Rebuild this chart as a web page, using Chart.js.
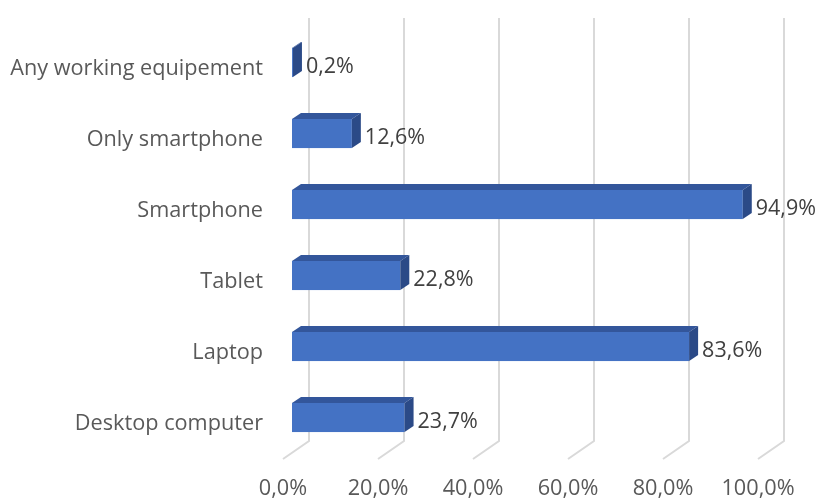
<!doctype html>
<html lang="en">
<head>
    <meta charset="UTF-8">
    <title>Equipment</title>
    <script src="https://cdn.jsdelivr.net/npm/chart.js"></script>
    <style>
        body { margin: 0; background: #fff; }
        #wrap { width: 819px; height: 500px; }
    </style>
</head>
<body>
    <div id="wrap"><canvas id="equipChart"></canvas></div>

    <script>
        const categories = ['Any working equipement', 'Only smartphone', 'Smartphone', 'Tablet', 'Laptop', 'Desktop computer'];
        const shares = [0.2, 12.6, 94.9, 22.8, 83.6, 23.7];
        const tickValues = [0, 20, 40, 60, 80, 100];

        const fmt = v => v.toFixed(1).replace('.', ',') + '%';

        // fake 3D: floor depth and bar depth offsets
        const wallDx = 26, wallDy = -18;
        const barDx = 9, barDy = -6;

        const box3d = {
            id: 'box3d',
            beforeDatasetsDraw(chart) {
                const ctx = chart.ctx;
                const x = chart.scales.x;
                const area = chart.chartArea;
                ctx.save();
                ctx.strokeStyle = '#d9d9d9';
                ctx.lineWidth = 2;
                tickValues.forEach(v => {
                    const px = x.getPixelForValue(v);
                    ctx.beginPath();
                    ctx.moveTo(px + wallDx, area.top + wallDy + 3);
                    ctx.lineTo(px + wallDx, area.bottom + wallDy);
                    ctx.lineTo(px, area.bottom);
                    ctx.stroke();
                });
                ctx.restore();
            },
            afterDatasetsDraw(chart) {
                const ctx = chart.ctx;
                const meta = chart.getDatasetMeta(0);
                ctx.save();
                meta.data.forEach((bar, i) => {
                    const x0 = bar.base + barDx;
                    const x1 = bar.x + barDx;
                    const top = bar.y - bar.height / 2 + barDy;
                    const bot = bar.y + bar.height / 2 + barDy;
                    // front
                    ctx.fillStyle = '#4472c4';
                    ctx.fillRect(x0, top, x1 - x0, bot - top);
                    // top face
                    ctx.fillStyle = '#33569b';
                    ctx.beginPath();
                    ctx.moveTo(x0, top);
                    ctx.lineTo(x1, top);
                    ctx.lineTo(x1 + barDx, top + barDy);
                    ctx.lineTo(x0 + barDx, top + barDy);
                    ctx.closePath();
                    ctx.fill();
                    // side face
                    ctx.fillStyle = '#2b4a87';
                    ctx.beginPath();
                    ctx.moveTo(x1, top);
                    ctx.lineTo(x1 + barDx, top + barDy);
                    ctx.lineTo(x1 + barDx, bot + barDy);
                    ctx.lineTo(x1, bot);
                    ctx.closePath();
                    ctx.fill();
                    // value label
                    ctx.fillStyle = '#404040';
                    ctx.font = '21.5px "Open Sans"';
                    ctx.textAlign = 'left';
                    ctx.textBaseline = 'middle';
                    ctx.fillText(fmt(shares[i]), x1 + barDx + 4, bar.y - 2);
                });
                ctx.restore();
            }
        };

        new Chart(document.getElementById('equipChart'), {
            type: 'bar',
            data: {
                labels: categories,
                datasets: [{
                    data: shares,
                    backgroundColor: 'rgba(0,0,0,0)',
                    categoryPercentage: 1,
                    barPercentage: 0.41
                }]
            },
            options: {
                indexAxis: 'y',
                responsive: true,
                maintainAspectRatio: false,
                animation: false,
                layout: { padding: { top: 30, right: 61, left: 0, bottom: 0 } },
                plugins: { legend: { display: false }, tooltip: { enabled: false } },
                scales: {
                    x: {
                        min: 0,
                        max: 100,
                        afterFit: s => { s.height = 41; },
                        grid: { display: false, drawTicks: false },
                        border: { display: false },
                        ticks: {
                            stepSize: 20,
                            padding: 17,
                            color: '#595959',
                            font: { family: 'Open Sans', size: 21.7 },
                            callback: v => fmt(v)
                        }
                    },
                    y: {
                        afterFit: s => { s.width = 283; },
                        grid: { display: false, drawTicks: false },
                        border: { display: false },
                        ticks: {
                            padding: 20,
                            color: '#595959',
                            font: { family: 'Open Sans', size: 21.7 }
                        }
                    }
                }
            },
            plugins: [box3d]
        });
    </script>
</body>
</html>
